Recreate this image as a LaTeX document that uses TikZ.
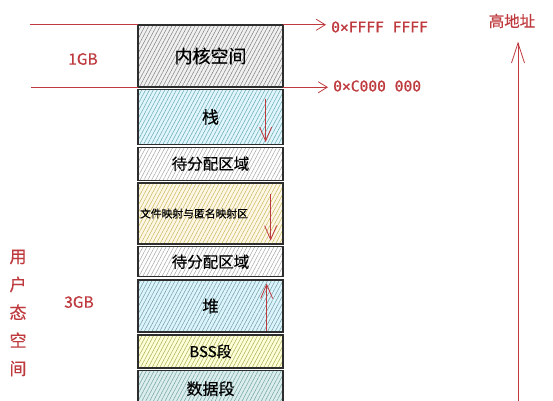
\documentclass[tikz,border=0pt]{standalone}
\usepackage{fontspec}
\setmainfont{Noto Sans CJK SC}[UprightFeatures={FakeBold=0.5}]
\newfontfamily\addrfont{DejaVu Sans Mono}[UprightFeatures={FakeBold=0.9}]
\usetikzlibrary{positioning,arrows.meta,patterns.meta}

\definecolor{redink}{RGB}{190,58,62}
\definecolor{edgeink}{RGB}{45,45,45}

\tikzset{
	memblk/.style 2 args={draw=edgeink, line width=1.3pt, minimum width=145pt, inner sep=0pt,
		preaction={fill=#1}, pattern={Lines[angle=62,distance=3.4pt,line width=0.5pt]}, pattern color=#2},
	redline/.style={draw=redink, line width=0.8pt},
	addrarrow/.style={redline, -{Straight Barb[length=9pt,width=11pt,line width=0.8pt]}},
	growarrow/.style={redline, -{Straight Barb[length=14pt,width=12pt,line width=0.8pt]}},
	redtext/.style={text=redink, font=\fontsize{15.5}{18}\selectfont},
	addr/.style={text=redink, anchor=west, inner sep=0pt, font=\addrfont\fontsize{14.6}{16}\selectfont},
}

\begin{document}
\begin{tikzpicture}[x=1pt,y=-1pt]
		\useasboundingbox (0,0) rectangle (553,400);
		
		\node[memblk={black!6}{black!50}, minimum height=62pt, font=\fontsize{18}{20}\selectfont] (kernel) at (210.5,56) {内核空间};
		\node[memblk={cyan!12}{cyan!45!black!60}, minimum height=55pt, below=1.5pt of kernel, font=\fontsize{17}{20}\selectfont] (stack) {栈};
		\node[memblk={white}{black!35}, minimum height=33pt, below=1.5pt of stack, font=\fontsize{15.5}{18}\selectfont] (free1) {待分配区域};
		\node[memblk={yellow!30!orange!8}{olive!60!brown!55}, minimum height=61pt, below=1.5pt of free1, text width=143pt, align=left, font=\fontsize{10.8}{13}\selectfont] (mmap) {\hspace{1pt}文件映射与匿名映射区};
		\node[memblk={white}{black!35}, minimum height=30pt, below=1.5pt of mmap, font=\fontsize{15.5}{18}\selectfont] (free2) {待分配区域};
		\node[memblk={cyan!14}{teal!60!black!55}, minimum height=52pt, below=2pt of free2, font=\fontsize{16.5}{20}\selectfont] (heap) {堆};
		\node[memblk={lime!20!yellow!15}{olive!70!black!50}, minimum height=33pt, below=1.5pt of heap, font=\fontsize{15}{18}\selectfont] (bss) {BSS段};
		\node[memblk={teal!14}{teal!70!black!55}, minimum height=36pt, below=1.5pt of bss, font=\fontsize{16}{20}\selectfont] (data) {数据段};
		
		\draw[growarrow] ([xshift=-18pt,yshift=-10pt]stack.north east) -- ([xshift=-18pt,yshift=3pt]stack.south east);
		\draw[growarrow] ([xshift=-13pt,yshift=-12pt]mmap.north east) -- ([xshift=-13pt,yshift=4pt]mmap.south east);
		\draw[growarrow] ([xshift=-17pt,yshift=2pt]heap.south east) -- ([xshift=-17pt,yshift=-4pt]heap.north east);
		
		\draw[redline] (kernel.north west) -- ++(-108,0);
		\draw[redline] (kernel.south west) -- ++(-107,0);
		\node[redtext] (onegb) at (83,59) {1GB};
		\node[redtext] (threegb) at (79,302) {3GB};
		\node[text=redink, align=center, font=\fontsize{17}{28}\selectfont] (userspace) at (18,313) {用\\户\\态\\空\\间};
		
		\node[addr] (addrtop) at (331,27) {0×FFFF FFFF};
		\node[addr] (addrmid) at (333,86) {0×C000 000};
		\draw[addrarrow] (kernel.north east) -- ([xshift=-5pt]addrtop.west |- kernel.north east);
		\draw[addrarrow] (kernel.south east) -- ([xshift=-5pt]addrmid.west |- kernel.south east);
		
		\node[redtext] (highaddr) at (512,21) {高地址};
		\coordinate (axisfoot) at (518,402);
		\draw[redline, -{Straight Barb[length=20pt,width=13pt,line width=0.8pt]}] (axisfoot) -- ([yshift=-10pt]highaddr.south -| axisfoot);
\end{tikzpicture}
\end{document}
